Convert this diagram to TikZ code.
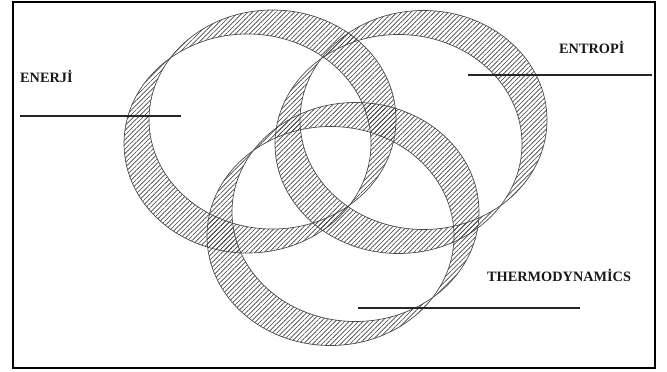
\documentclass[tikz,border=0pt]{standalone}
\usepackage{fontspec}
\setmainfont{Liberation Serif}
\usetikzlibrary{patterns.meta}
\begin{document}
\begin{tikzpicture}[x=1pt,y=-1pt,
  ringfill/.style={pattern={Lines[angle=45,distance=3.3pt,line width=0.65pt]},
    pattern color=black!75, even odd rule},
  ringedge/.style={draw=black!70, line width=0.7pt},
  label/.style={font=\fontsize{14.3}{16}\selectfont\bfseries, inner sep=0pt, anchor=base west, text=black!90},
  underline/.style={line width=1.4pt, black!85},
  frame/.style={line width=2pt, black}]
\useasboundingbox (0,0) rectangle (667,372);
\fill[white] (0,0) rectangle (667,372);
% rings: each is two equal ellipses offset along the NE-SW diagonal
\foreach \cx/\cy/\nm in {260/131.5/enerji, 411/132/entropi, 343/224/thermo}{
  \coordinate (\nm-a) at (\cx+12.5,\cy-12);
  \coordinate (\nm-b) at (\cx-12.5,\cy+12);
  \fill[ringfill] (\nm-a) ellipse [x radius=123.5pt, y radius=109.5pt]
                  (\nm-b) ellipse [x radius=123.5pt, y radius=109.5pt];
  \draw[ringedge] (\nm-a) ellipse [x radius=123.5pt, y radius=109.5pt];
  \draw[ringedge] (\nm-b) ellipse [x radius=123.5pt, y radius=109.5pt];
}
% labels
\node[label] (tenerji) at (20,82.7) {ENERJİ};
\node[label] (tentropi) at (559,53.7) {ENTROPİ};
\node[label] (tthermo) at (487,281.7) {THERMODYNAMİCS};
% label lines
\coordinate (l1a) at (20,116); \coordinate (l1b) at (181,116);
\coordinate (l2a) at (468,75); \coordinate (l2b) at (652,75);
\coordinate (l3a) at (358,308); \coordinate (l3b) at (580,308);
\draw[underline] (l1a) -- (l1b);
\draw[underline] (l2a) -- (l2b);
\draw[underline] (l3a) -- (l3b);
% frame
\coordinate (f1) at (13,2); \coordinate (f2) at (655,368);
\draw[frame] (f1) rectangle (f2);
\end{tikzpicture}
\end{document}
